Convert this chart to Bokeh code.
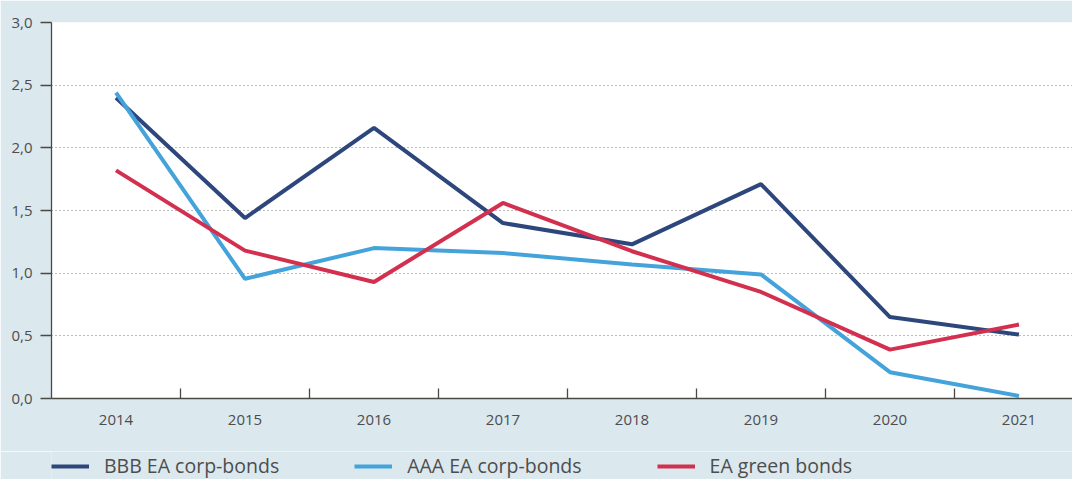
from bokeh.plotting import figure
from bokeh.models import Range1d, FixedTicker, Legend, LegendItem
from bokeh.layouts import column
from bokeh.embed import file_html
from bokeh.resources import INLINE

years = ["2014", "2015", "2016", "2017", "2018", "2019", "2020", "2021"]
bbb_corp = [2.40, 1.44, 2.16, 1.40, 1.23, 1.71, 0.65, 0.51]
aaa_corp = [2.44, 0.955, 1.20, 1.16, 1.07, 0.99, 0.21, 0.02]
green_bonds = [1.82, 1.18, 0.93, 1.56, 1.175, 0.85, 0.39, 0.59]
series_names = ["BBB EA corp-bonds", "AAA EA corp-bonds", "EA green bonds"]
y_ticks = [0.0, 0.5, 1.0, 1.5, 2.0, 2.5, 3.0]
y_labels = ["0,0", "0,5", "1,0", "1,5", "2,0", "2,5", "3,0"]

BG = "#dbe8ee"
AXIS = "#4a4944"
TXT = "#4d4d4d"
FONT = "Open Sans"
colors = ["#2d477c", "#44a3da", "#d3304f"]

xs = list(range(len(years)))
series = [bbb_corp, aaa_corp, green_bonds]

# ---------- main chart ----------
p = figure(width=1072, height=451, output_backend="svg", toolbar_location=None,
           x_range=Range1d(-0.5, 7.415), y_range=Range1d(0, 3.0))
p.min_border_left = 51
p.min_border_right = 0
p.min_border_top = 22
p.min_border_bottom = 53
p.background_fill_color = "white"
p.border_fill_color = BG
p.outline_line_color = None

for vals, c in zip(series, colors):
    p.line(xs, vals, line_color=c, line_width=4)

xa = p.xaxis[0]
xa.ticker = FixedTicker(ticks=xs, minor_ticks=[i + 0.5 for i in xs[:-1]])
xa.major_label_overrides = {i: y for i, y in enumerate(years)}
xa.major_tick_in = 0
xa.major_tick_out = 0
xa.major_tick_line_color = None
xa.minor_tick_in = 10
xa.minor_tick_out = 0
xa.minor_tick_line_color = AXIS
xa.minor_tick_line_width = 1.3
xa.axis_line_color = AXIS
xa.axis_line_width = 1.3
xa.major_label_standoff = 16
xa.major_label_text_font = FONT
xa.major_label_text_font_size = "15px"
xa.major_label_text_color = TXT

ya = p.yaxis[0]
ya.ticker = FixedTicker(ticks=y_ticks, minor_ticks=[])
ya.major_label_overrides = {t: l for t, l in zip(y_ticks, y_labels)}
ya.major_tick_in = 0
ya.major_tick_out = 11
ya.major_tick_line_color = AXIS
ya.major_tick_line_width = 1.3
ya.axis_line_color = AXIS
ya.axis_line_width = 1.3
ya.major_label_standoff = 8
ya.major_label_text_font = FONT
ya.major_label_text_font_size = "15px"
ya.major_label_text_color = TXT

p.xgrid.grid_line_color = None
p.ygrid.ticker = FixedTicker(ticks=y_ticks[1:], minor_ticks=[])
p.ygrid.grid_line_color = "#7a7a7a"
p.ygrid.grid_line_dash = "1 3"
p.ygrid.grid_line_width = 1.2

# ---------- legend strip (series drawn out of view, only their legend glyphs show) ----------
lg = figure(width=1072, height=28, output_backend="svg", toolbar_location=None,
            x_range=Range1d(-0.5, 7.415), y_range=Range1d(10, 11),
            x_axis_location=None, y_axis_location=None)
lg.min_border_left = 51
lg.min_border_right = 0
lg.min_border_top = 0
lg.min_border_bottom = 0
lg.background_fill_color = BG
lg.border_fill_color = BG
lg.outline_line_color = None
lg.xgrid.grid_line_color = None
lg.ygrid.grid_line_color = None

items = []
for name, vals, c in zip(series_names, series, colors):
    r = lg.line(xs, vals, line_color=c, line_width=4)
    items.append(LegendItem(label=name, renderers=[r]))

legend = Legend(items=items, orientation="horizontal", location=(0, 0),
                margin=0, padding=0, spacing=75,
                glyph_width=38, glyph_height=20, label_standoff=15,
                label_text_font=FONT, label_text_font_size="19.5px",
                label_text_color=TXT,
                border_line_color=None, background_fill_alpha=0)
lg.add_layout(legend, "center")

layout = column(p, lg, spacing=0)
html = file_html(layout, INLINE)
open("out.html", "w").write(html)
